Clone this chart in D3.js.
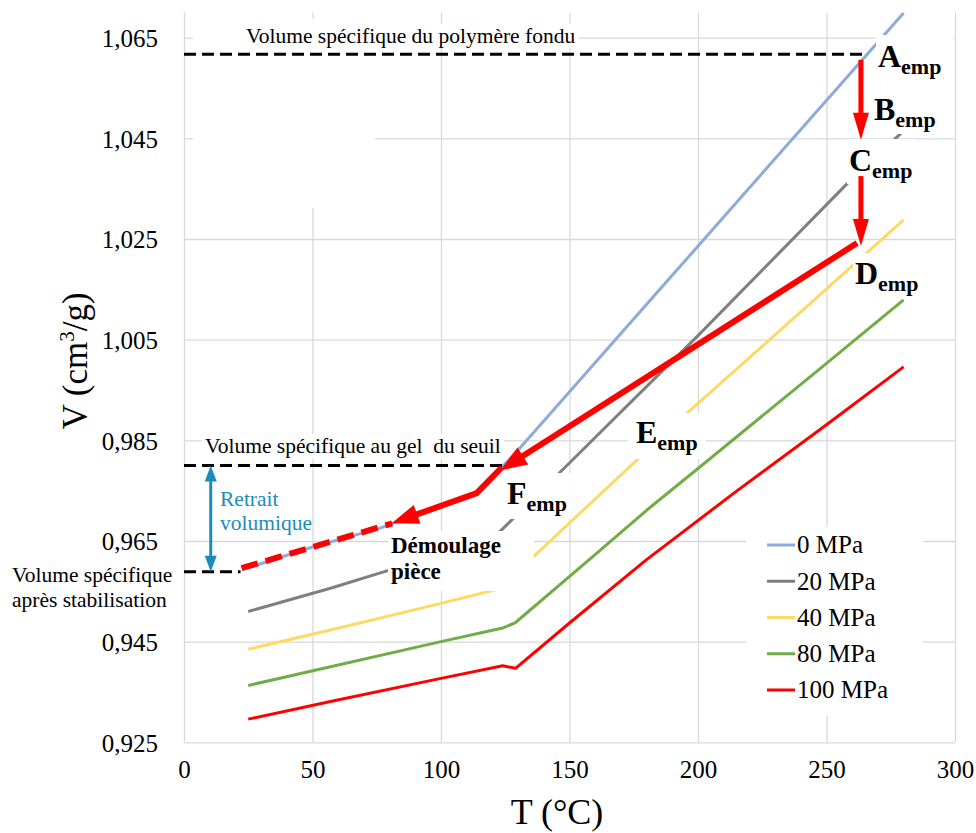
<!DOCTYPE html>
<html><head><meta charset="utf-8">
<script src="https://cdn.jsdelivr.net/npm/d3@7"></script>
</head><body style="margin:0;background:#fff">
<svg id="c" width="976" height="833" font-family="Liberation Serif, Times New Roman, serif" style="display:block"></svg>
<script>
// ---------- data ----------
const xTicks = [0, 50, 100, 150, 200, 250, 300];
const yTicks = [0.925, 0.945, 0.965, 0.985, 1.005, 1.025, 1.045, 1.065];
const seriesNames = ["0 MPa", "20 MPa", "40 MPa", "80 MPa", "100 MPa"];
const seriesColors = ["#8eaadb", "#7f7f7f", "#ffd966", "#70ad47", "#ff0000"];
// [T (°C), V (cm3/g)]
const v0MPa   = [[25,0.9597],[50,0.9638],[76,0.9675],[114,0.9745],[129,0.9825],[185,1.0149],[280,1.0699]];
const v20MPa  = [[25,0.9510],[57,0.9556],[78,0.9589],[119,0.9650],[124,0.9674],[148,0.9795],[200,1.0058],[259,1.0365],[280,1.0465]];
const v40MPa  = [[25,0.9435],[57,0.9473],[100,0.9526],[122,0.9554],[128,0.9580],[136,0.9619],[179,0.9824],[197,0.9910],[240,1.0105],[280,1.0288]];
const v80MPa  = [[25,0.9363],[57,0.9400],[100,0.9450],[124,0.9477],[129,0.9488],[157,0.9610],[180,0.9711],[200,0.9794],[250,1.0003],[280,1.0129]];
const v100MPa = [[25,0.9296],[57,0.9331],[100,0.9377],[124,0.9402],[129,0.9397],[150,0.9487],[180,0.9613],[215,0.9749],[250,0.9881],[280,0.9996]];
const seriesData = [v0MPa, v20MPa, v40MPa, v80MPa, v100MPa];

// annotation levels / paths (data space)
const meltLevel = 1.0617, meltEnd = 266;
const gelLevel = 0.980, gelEnd = 124;
const stabLevel = 0.9589, stabEnd = 22;
const arrowAC = [[263.4,1.0606],[263.4,1.0447]];
const arrowCD = [[263.4,1.0375],[263.4,1.0236]];
const arrowDF = [[261.9,1.0242],[123,0.9790]];
const arrowFG = [[123.6,0.9796],[113.9,0.9745],[80.8,0.9685]];
const dashedRed = [[22.4,0.9596],[81,0.9685]];
const retrait = [[10.4,gelLevel],[10.4,stabLevel]];

// ---------- layout ----------
const svg = d3.select("#c");
const M = {l:184, r:955, t:12.5, b:742.3};
const x = d3.scaleLinear().domain([0,300]).range([M.l, M.r]);
const y = d3.scaleLinear().domain([0.925,1.07]).range([M.b, M.t]);
const FONT = "Liberation Serif, Times New Roman, serif";
const grid = "#d9d9d9";

// axes + gridlines
const yAxis = d3.axisLeft(y).tickValues(yTicks).tickSize(-(M.r-M.l)).tickPadding(26)
  .tickFormat(d => d3.format(".3f")(d).replace(".", ","));
const gY = svg.append("g").attr("transform",`translate(${M.l},0)`).call(yAxis)
  .attr("font-family",FONT).attr("font-size",25);
gY.select(".domain").remove();
gY.selectAll("line").attr("stroke",grid).attr("stroke-width",1.3);
gY.selectAll("text").attr("fill","#000").attr("dy","0.35em");

const xAxis = d3.axisBottom(x).tickValues(xTicks).tickSize(-(M.b-M.t)).tickPadding(18);
const gX = svg.append("g").attr("transform",`translate(0,${M.b})`).call(xAxis)
  .attr("font-family",FONT).attr("font-size",25);
gX.select(".domain").remove();
gX.selectAll("line").attr("stroke",grid).attr("stroke-width",1.3);
gX.selectAll("text").attr("fill","#000");

// white text-box area covering grid (upper left)
svg.append("rect").attr("x",193).attr("y",19).attr("width",182).attr("height",189).attr("fill","#fff");

// series
const line = d3.line().x(d => x(d[0])).y(d => y(d[1]));
svg.append("g").selectAll("path").data(seriesData).join("path")
  .attr("d", line).attr("fill","none")
  .attr("stroke",(d,i)=>seriesColors[i]).attr("stroke-width",3)
  .attr("stroke-linejoin","round");

// ---------- labels with white boxes ----------
const boxLayer = svg.append("g");
const textLayer = svg.append("g").attr("font-family",FONT);
function boxed(sel, pad){
  const b = sel.node().getBBox();
  const p = pad || [2,2,2,2];
  boxLayer.append("rect").attr("x",b.x-p[3]).attr("y",b.y-p[0])
    .attr("width",b.width+p[1]+p[3]).attr("height",b.height+p[0]+p[2]).attr("fill","#fff");
}
function plain(tx, ty, str, opts){
  opts = opts || {};
  const t = textLayer.append("text").attr("x",tx).attr("y",ty)
    .attr("font-size",opts.size||21.5).attr("fill",opts.color||"#000")
    .attr("font-weight",opts.bold?"bold":"normal").text(str);
  if (opts.box) boxed(t, opts.pad);
  return t;
}
function emp(tx, ty, letter, pad){
  const t = textLayer.append("text").attr("x",tx).attr("y",ty).attr("font-weight","bold");
  t.append("tspan").attr("font-size",32).text(letter);
  t.append("tspan").attr("font-size",22).attr("dy",7).text("emp");
  boxed(t, pad || [0,2,0,2]);
  return t;
}

plain(246, 43, "Volume spécifique du polymère fondu", {box:true, pad:[0,3,0,50]});
plain(205, 453, "Volume spécifique au gel\u00a0 du seuil", {box:true, pad:[0,3,1,3]});
plain(12, 582, "Volume spécifique");
plain(12, 607, "après stabilisation");
plain(220, 506, "Retrait", {color:"#1b8cc0"});
plain(220, 530, "volumique", {color:"#1b8cc0"});
boxLayer.append("rect").attr("x",388).attr("y",531).attr("width",146).attr("height",60).attr("fill","#fff");
plain(391, 553, "Démoulage", {bold:true, size:23});
plain(391, 579, "pièce", {bold:true, size:23});

emp(878, 67, "A", [3,12,3,2]);
emp(874, 120, "B", [2,6,2,2]);
emp(849, 171, "C", [3,4,1,2]);
emp(855, 284, "D", [2,4,2,2]);
emp(636, 443, "E", [1,8,4,8]);
emp(507, 504, "F", [2,4,3,2]);

// axis titles
const vt = svg.append("text").attr("transform","translate(87,361) rotate(-90)")
  .attr("text-anchor","middle").attr("font-size",35).attr("font-family",FONT);
vt.append("tspan").text("V (cm");
vt.append("tspan").attr("font-size",21).attr("dy",-13).text("3");
vt.append("tspan").attr("dy",13).text("/g)");
svg.append("text").attr("x",557).attr("y",824).attr("text-anchor","middle")
  .attr("font-size",36).attr("font-family",FONT).text("T (°C)");

// legend
const lg = svg.append("g").attr("font-family",FONT);
lg.append("rect").attr("x",746).attr("y",527).attr("width",177).attr("height",189).attr("fill","#fff");
const rowY = d3.scalePoint().domain(seriesNames).range([545, 690]);
const items = lg.selectAll("g.it").data(seriesNames).join("g").attr("class","it")
  .attr("transform",d=>`translate(0,${rowY(d)})`);
items.append("line").attr("x1",767).attr("x2",795).attr("stroke",(d,i)=>seriesColors[i]).attr("stroke-width",3);
items.append("text").attr("x",797).attr("y",0).attr("dy","0.33em").attr("font-size",25).text(d=>d);

// ---------- annotations ----------
const ann = svg.append("g");
function hdash(level, t1, color, w, dash){
  ann.append("line").attr("x1",x(0)).attr("x2",x(t1)).attr("y1",y(level)).attr("y2",y(level))
    .attr("stroke",color).attr("stroke-width",w).attr("stroke-dasharray",dash);
}
hdash(meltLevel, meltEnd, "#000", 3, "12,6");
hdash(gelLevel, gelEnd, "#000", 3, "12,6");
hdash(stabLevel, stabEnd, "#000", 3, "12,6");

ann.append("path").attr("d", line(dashedRed)).attr("fill","none")
  .attr("stroke","#ff0000").attr("stroke-width",6).attr("stroke-dasharray","17,8");

function arrow(pts, color, w, L, W, both){
  const P = pts.map(p => [x(p[0]), y(p[1])]);
  function head(a, b){ // tip at b
    const dx=b[0]-a[0], dy=b[1]-a[1], n=Math.hypot(dx,dy), ux=dx/n, uy=dy/n;
    const bx=b[0]-ux*L, by=b[1]-uy*L;
    ann.append("path").attr("d",`M${b[0]},${b[1]}L${bx-uy*W/2},${by+ux*W/2}L${bx+uy*W/2},${by-ux*W/2}Z`)
      .attr("fill",color);
    return [bx+ux*1, by+uy*1];
  }
  const Q = P.slice();
  Q[Q.length-1] = head(P[P.length-2], P[P.length-1]);
  if (both) Q[0] = head(P[1], P[0]);
  ann.append("path").attr("d", d3.line()(Q)).attr("fill","none").attr("stroke",color)
    .attr("stroke-width",w).attr("stroke-linejoin","miter");
}
arrow(arrowAC, "#ff0000", 5, 27, 16);
arrow(arrowCD, "#ff0000", 5, 27, 16);
arrow(arrowDF, "#ff0000", 6, 27, 20);
arrow(arrowFG, "#ff0000", 6, 27, 20);
arrow(retrait, "#1b8cc0", 3, 16, 12, true);
</script>
</body></html>
